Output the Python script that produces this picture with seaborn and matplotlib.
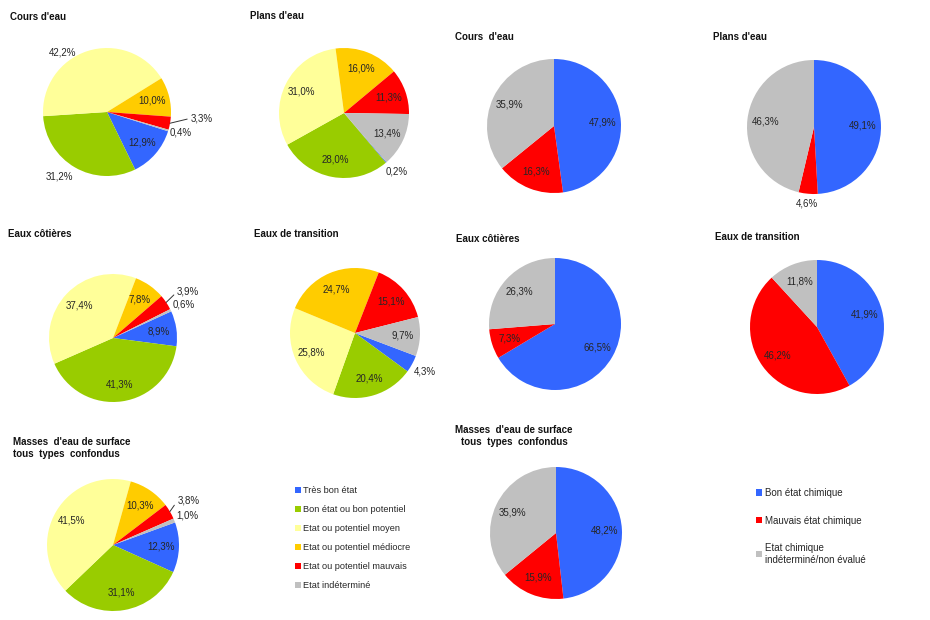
import numpy as np
import pandas as pd
import seaborn as sns
import matplotlib
matplotlib.use("Agg")
import matplotlib.pyplot as plt
from matplotlib.patches import Patch

# ---------------- data ----------------
eco_categories = ["Très bon état", "Bon état ou bon potentiel", "Etat ou potentiel moyen",
                  "Etat ou potentiel médiocre", "Etat ou potentiel mauvais", "Etat indéterminé"]
eco_cours = [12.9, 31.2, 42.2, 10.0, 3.3, 0.4]
eco_plans = [0.2, 28.0, 31.0, 16.0, 11.3, 13.4]
eco_cotieres = [8.9, 41.3, 37.4, 7.8, 3.9, 0.6]
eco_transition = [4.3, 20.4, 25.8, 24.7, 15.1, 9.7]
eco_masses = [12.3, 31.1, 41.5, 10.3, 3.8, 1.0]

chem_categories = ["Bon état chimique", "Mauvais état chimique",
                   "Etat chimique\nindéterminé/non évalué"]
chem_cours = [47.9, 16.3, 35.9]
chem_plans = [49.1, 4.6, 46.3]
chem_cotieres = [66.5, 7.3, 26.3]
chem_transition = [41.9, 46.2, 11.8]
chem_masses = [48.2, 15.9, 35.9]

# ---------------- style ----------------
sns.set_theme(style="white")
plt.rcParams['font.family'] = ['Liberation Sans', 'DejaVu Sans']

eco_colors = sns.color_palette(["#3366FF", "#99CC00", "#FFFF99", "#FFCC00", "#FF0000", "#C0C0C0"])
chem_colors = sns.color_palette(["#3366FF", "#FF0000", "#C0C0C0"])

W, H = 930, 620
fig = plt.figure(figsize=(W / 100, H / 100), dpi=100)
fig.patch.set_facecolor("white")

TXT = "#262626"
LBL_SIZE = 7
TITLE_SIZE = 7


def fmt(v):
    return f"{v:.1f}".replace(".", ",") + "%"


# layout of each pie: center (px), radius (px), start angle, label overrides, leader lines
pies = [
    dict(title="Cours d'eau", tpos=(10, 17), values=eco_cours, colors=eco_colors,
         center=(107, 112), r=64, start=-17.5,
         labelpos={1: (1.25, -6.6), 2: (1.16, 19), 4: (1.48, 6.3), 5: (1.2, 1.4)}, leaders=[4]),
    dict(title="Plans d'eau", tpos=(250, 16), values=eco_plans, colors=eco_colors,
         center=(344, 113), r=65, start=-49.2,
         labelpos={0: (1.21, 2)}, leaders=[]),
    dict(title="Eaux côtières", tpos=(8, 234), values=eco_cotieres, colors=eco_colors,
         center=(113, 338), r=64, start=24.6,
         labelpos={4: (1.38, -2.2), 5: (1.22, 0)}, leaders=[4]),
    dict(title="Eaux de transition", tpos=(254, 234), values=eco_transition, colors=eco_colors,
         center=(355, 333), r=65, start=-20.7,
         labelpos={0: (1.23, -0.5)}, leaders=[]),
    dict(title="Masses  d'eau de surface\ntous  types  confondus", tpos=(13, 448), values=eco_masses,
         colors=eco_colors, center=(113, 545), r=66, start=20,
         labelpos={4: (1.33, 0), 5: (1.21, 0)}, leaders=[4]),
    dict(title="Cours  d'eau", tpos=(455, 37), values=chem_cours, colors=chem_colors,
         center=(554, 126), r=67, start=90, labelpos={}, leaders=[]),
    dict(title="Plans d'eau", tpos=(713, 37), values=chem_plans, colors=chem_colors,
         center=(814, 127), r=67, start=90, labelpos={1: (1.14, 0)}, leaders=[]),
    dict(title="Eaux côtières", tpos=(456, 239), values=chem_cotieres, colors=chem_colors,
         center=(555, 324), r=66, start=90, labelpos={}, leaders=[]),
    dict(title="Eaux de transition", tpos=(715, 237), values=chem_transition, colors=chem_colors,
         center=(817, 327), r=67, start=90, labelpos={}, leaders=[]),
    dict(title="Masses  d'eau de surface\ntous  types  confondus", tpos=(514, 436), values=chem_masses,
         colors=chem_colors, center=(556, 533), r=66, start=90, labelpos={}, leaders=[],
         center_title=True),
]

for p in pies:
    cx, cy = p["center"]
    r = p["r"]
    ax = fig.add_axes([(cx - r) / W, 1 - (cy + r) / H, 2 * r / W, 2 * r / H])
    wedges, _ = ax.pie(p["values"], colors=p["colors"], startangle=p["start"],
                       counterclock=False, wedgeprops=dict(linewidth=0))
    ax.set_xlim(-1, 1)
    ax.set_ylim(-1, 1)
    ax.set_aspect("equal")
    ax.axis("off")
    for i, (w, v) in enumerate(zip(wedges, p["values"])):
        mid = (w.theta1 + w.theta2) / 2.0
        dist, off = p["labelpos"].get(i, (0.73, 0))
        a = np.deg2rad(mid + off)
        x, y = dist * np.cos(a), dist * np.sin(a)
        if i in p["leaders"]:
            m = np.deg2rad(mid)
            ax.annotate(fmt(v), xy=(np.cos(m), np.sin(m)), xytext=(x, y),
                        ha="center", va="center", fontsize=LBL_SIZE, color=TXT,
                        annotation_clip=False,
                        arrowprops=dict(arrowstyle="-", color="#333333", lw=0.7,
                                        relpos=(0, 0.5), shrinkA=0, shrinkB=0))
        else:
            ax.text(x, y, fmt(v), ha="center", va="center", fontsize=LBL_SIZE,
                    color=TXT, clip_on=False)

    tx, ty = p["tpos"]
    if p.get("center_title"):
        fig.text(tx / W, 1 - ty / H, p["title"], ha="center", va="center",
                 multialignment="center", fontsize=TITLE_SIZE, fontweight="bold",
                 color="#111111", linespacing=1.15)
    else:
        fig.text(tx / W, 1 - ty / H, p["title"], ha="left", va="center",
                 fontsize=TITLE_SIZE, fontweight="bold", color="#111111", linespacing=1.15)

# legends
eco_handles = [Patch(facecolor=c, edgecolor="none") for c in eco_colors]
fig.legend(eco_handles, eco_categories, loc="upper left",
           bbox_to_anchor=(295 / W, 1 - 486 / H), frameon=False, fontsize=6.6,
           handlelength=0.6, handleheight=0.6, handletextpad=0.3, labelspacing=1.1,
           borderpad=0, borderaxespad=0, labelcolor=TXT)

chem_handles = [Patch(facecolor=c, edgecolor="none") for c in chem_colors]
fig.legend(chem_handles, chem_categories, loc="upper left",
           bbox_to_anchor=(756 / W, 1 - 488 / H), frameon=False, fontsize=7,
           handlelength=0.6, handleheight=0.6, handletextpad=0.3, labelspacing=1.8,
           borderpad=0, borderaxespad=0, labelcolor=TXT)

fig.savefig("out.png", dpi=100)
